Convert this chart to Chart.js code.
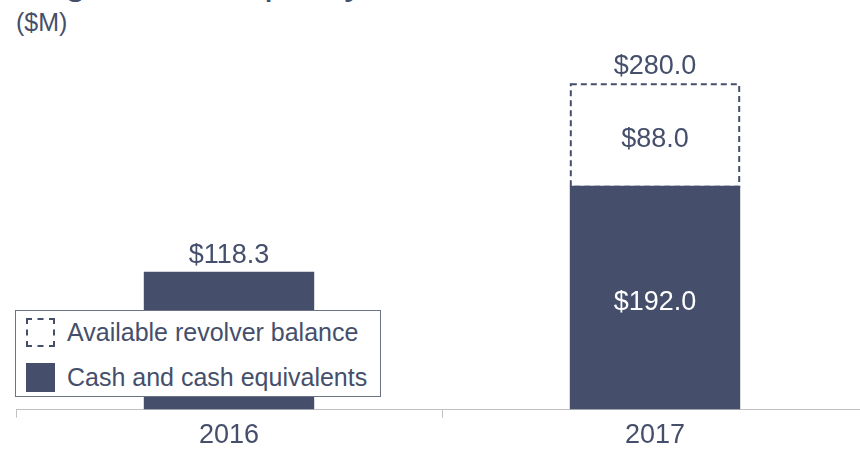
<!DOCTYPE html>
<html>
<head>
<meta charset="utf-8">
<script src="https://cdn.jsdelivr.net/npm/chart.js@4.4.1/dist/chart.umd.min.js"></script>
<style>
  html, body { margin: 0; padding: 0; background: #fff; overflow: hidden; }
  body { width: 860px; height: 454px; position: relative; font-family: "Liberation Sans", Arial, sans-serif; color: #454f6b; }
  #wrap { position: absolute; left: 0; top: 0; width: 868px; height: 454px; }
  #titre { position: absolute; left: 30px; top: -39px; font-size: 39px; line-height: 39px; white-space: nowrap; }
  #unite { position: absolute; left: 16px; top: 10px; font-size: 25px; line-height: 25px; }
  #legende { position: absolute; left: 15px; top: 310px; width: 364px; height: 85px; background: #fff; border: 1px solid #6d7387; }
  .item { position: absolute; left: 10px; display: flex; align-items: center; font-size: 25px; line-height: 29px; }
  .item span.box { width: 29px; height: 29px; box-sizing: border-box; margin-right: 12px; }
  .dash { border: 2px dashed #454f6b; }
  .plein { background: #454f6b; }
</style>
</head>
<body>
<div id="titre">Significant Liquidity</div>
<div id="unite">($M)</div>
<div id="wrap"><canvas id="graf" width="868" height="454"></canvas></div>
<div id="legende">
  <div class="item" style="top:7px"><span class="box dash"></span>Available revolver balance</div>
  <div class="item" style="top:52px"><span class="box plein"></span>Cash and cash equivalents</div>
</div>
<script>
// Dados
const anos = ['2016', '2017'];
const caixa = [118.3, 192.0];
const revolver = [null, 88.0];
const totais = [118.3, 280.0];

const corBarra = '#454f6b';
const corTexto = '#454f6b';
const fonte = '"Liberation Sans", Arial, sans-serif';

function fmt(v) {
  return '$' + v.toFixed(1);
}

// Plugin: borda tracejada + rótulos
const rotulos = {
  id: 'rotulos',
  afterDatasetsDraw(chart) {
    const ctx = chart.ctx;
    const metaCaixa = chart.getDatasetMeta(0);
    const metaRev = chart.getDatasetMeta(1);
    ctx.save();

    // borda tracejada do revolver
    metaRev.data.forEach((el, i) => {
      if (revolver[i] == null) return;
      const p = el.getProps(['x', 'y', 'base', 'width'], true);
      ctx.setLineDash([6, 4]);
      ctx.lineWidth = 2;
      ctx.strokeStyle = corBarra;
      ctx.strokeRect(p.x - p.width / 2 + 1, p.y + 1, p.width - 2, p.base - p.y);
      ctx.setLineDash([]);
    });

    ctx.font = '27px ' + fonte;
    ctx.textAlign = 'center';
    ctx.textBaseline = 'alphabetic';

    anos.forEach((a, i) => {
      const c = metaCaixa.data[i].getProps(['x', 'y', 'base'], true);
      let topo = c.y;
      if (revolver[i] != null) {
        const r = metaRev.data[i].getProps(['x', 'y', 'base'], true);
        topo = r.y;
        ctx.fillStyle = '#ffffff';
        ctx.fillText(fmt(caixa[i]), c.x, (c.y + c.base) / 2 + 12);
        ctx.fillStyle = corTexto;
        ctx.fillText(fmt(revolver[i]), r.x, (r.y + r.base) / 2 + 12);
      }
      ctx.fillStyle = corTexto;
      ctx.fillText(fmt(totais[i]), c.x, topo - 9);
    });
    ctx.restore();
  }
};

new Chart(document.getElementById('graf'), {
  type: 'bar',
  data: {
    labels: anos,
    datasets: [
      {
        label: 'Cash and cash equivalents',
        data: caixa,
        backgroundColor: corBarra,
        borderWidth: 0,
        categoryPercentage: 1,
        barPercentage: 0.4
      },
      {
        label: 'Available revolver balance',
        data: revolver,
        backgroundColor: 'rgba(0,0,0,0)',
        borderWidth: 0,
        categoryPercentage: 1,
        barPercentage: 0.4
      }
    ]
  },
  options: {
    responsive: false,
    animation: false,
    layout: { padding: { left: 16, right: 0, top: 60, bottom: 0 } },
    scales: {
      x: {
        stacked: true,
        grid: { display: true, drawOnChartArea: false, drawTicks: true, tickLength: 8, color: '#c0c0c0', offset: true },
        border: { display: true, color: '#c0c0c0', width: 1 },
        ticks: { color: corTexto, font: { size: 27, family: fonte }, padding: 2 }
      },
      y: {
        stacked: true,
        display: false,
        min: 0,
        max: 300
      }
    },
    plugins: {
      legend: { display: false },
      tooltip: { enabled: false }
    }
  },
  plugins: [rotulos]
});
</script>
</body>
</html>
